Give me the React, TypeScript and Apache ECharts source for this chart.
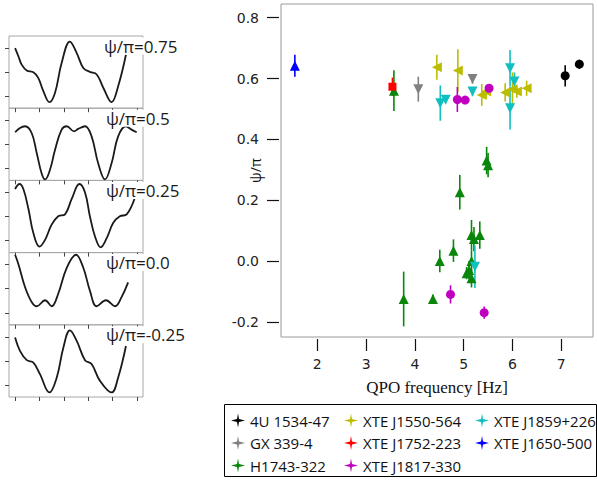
import React, { useEffect, useRef } from 'react';
import * as echarts from 'echarts';

// ---- Main scatter data: [QPO frequency (Hz), psi/pi, error] ----
const sourceNames = ['4U 1534-47', 'GX 339-4', 'H1743-322', 'XTE J1550-564', 'XTE J1752-223', 'XTE J1817-330', 'XTE J1859+226', 'XTE J1650-500'];

const data4U1534 = [[7.08, 0.609, 0.035], [7.37, 0.647, 0.015]];
const dataGX339 = [[4.07, 0.565, 0.041], [5.18, 0.598, 0.015]];
const dataH1743 = [
  [3.57, 0.56, 0.067], [3.77, -0.125, 0.09], [4.37, -0.125, 0.015], [4.51, 0.0, 0.037],
  [4.79, 0.034, 0.037], [4.92, 0.226, 0.057], [5.06, -0.04, 0.02], [5.11, -0.03, 0.03],
  [5.16, -0.057, 0.03], [5.16, 0.0, 0.035], [5.16, 0.085, 0.05], [5.21, 0.072, 0.04],
  [5.33, 0.085, 0.045], [5.47, 0.33, 0.045], [5.5, 0.315, 0.04]
];
const dataJ1550 = [
  [4.45, 0.637, 0.041], [4.88, 0.626, 0.07], [5.37, 0.546, 0.036], [5.46, 0.557, 0.02],
  [5.85, 0.554, 0.03], [6.0, 0.565, 0.055], [6.09, 0.557, 0.02], [6.29, 0.568, 0.025]
];
const dataJ1752 = [[3.54, 0.573, 0.03]];
const dataJ1817 = [[4.87, 0.531, 0.041], [5.03, 0.529, 0.01], [5.52, 0.568, 0.01], [4.73, -0.11, 0.03], [5.42, -0.17, 0.02]];
const dataJ1859 = [
  [4.52, 0.519, 0.058], [4.63, 0.53, 0.01], [5.18, 0.557, 0.015], [5.95, 0.634, 0.06],
  [5.95, 0.502, 0.07], [6.04, 0.59, 0.03], [5.23, -0.019, 0.07]
];
const dataJ1650 = [[1.54, 0.642, 0.036]];

const sourceData = [data4U1534, dataGX339, dataH1743, dataJ1550, dataJ1752, dataJ1817, dataJ1859, dataJ1650];

const xTicks = [2, 3, 4, 5, 6, 7];
const yTicks = [-0.2, 0.0, 0.2, 0.4, 0.6, 0.8];

// ---- Waveform panels (phase units, amplitude) ----
const waveLabels = ['ψ/π=0.75', 'ψ/π=0.5', 'ψ/π=0.25', 'ψ/π=0.0', 'ψ/π=-0.25'];
const wave1X = [0, 0.14, 0.27, 0.48, 0.75, 0.95, 1.16, 1.41, 1.64, 1.91, 2.25, 2.53, 2.8, 3.07, 3.35, 3.62, 3.96, 4.23, 4.55];
const wave1Y = [2.5, 2.15, 1.81, 1.57, 1.49, 1.26, 0.71, 0.25, 0.64, 1.88, 2.77, 2.29, 1.67, 1.51, 1.4, 0.85, 0.25, 0.91, 2.22];
const wave2X = [0, 0.2, 0.41, 0.68, 0.89, 1.09, 1.23, 1.43, 1.64, 1.91, 2.12, 2.42, 2.59, 2.87, 3.14, 3.41, 3.69, 3.96, 4.23, 4.55, 4.78, 4.99];
const wave2Y = [2.0, 2.18, 2.25, 1.97, 1.13, 0.29, 0.04, 0.43, 1.27, 2.11, 2.25, 2.04, 2.14, 2.25, 1.83, 0.71, 0.04, 0.71, 1.83, 2.25, 2.11, 2.0];
const wave3X = [0, 0.18, 0.34, 0.55, 0.75, 1.0, 1.23, 1.5, 1.77, 2.05, 2.32, 2.64, 2.87, 3.07, 3.28, 3.51, 3.76, 4.03, 4.3, 4.58, 4.92];
const wave3Y = [2.64, 2.85, 2.64, 1.8, 0.81, 0.25, 0.53, 1.16, 1.51, 1.59, 2.22, 2.85, 2.5, 1.51, 0.67, 0.22, 0.6, 1.24, 1.51, 1.59, 2.29];
const wave4X = [0, 0.14, 0.41, 0.68, 0.89, 1.23, 1.5, 1.77, 2.12, 2.5, 2.8, 3.07, 3.35, 3.73, 4.1, 4.37, 4.64];
const wave4Y = [2.91, 2.51, 1.56, 0.95, 0.77, 1.02, 0.77, 1.29, 2.37, 2.91, 2.37, 1.42, 0.77, 1.02, 0.77, 1.15, 1.76];
const wave5X = [0, 0.2, 0.48, 0.75, 1.02, 1.41, 1.71, 1.98, 2.25, 2.53, 2.87, 3.14, 3.48, 3.96, 4.23, 4.55];
const wave5Y = [2.47, 1.92, 1.53, 1.43, 0.95, 0.19, 0.81, 2.05, 2.77, 2.33, 1.53, 1.37, 0.68, 0.19, 0.81, 2.12];
const waveXs = [wave1X, wave2X, wave3X, wave4X, wave5X];
const waveYs = [wave1Y, wave2Y, wave3Y, wave4Y, wave5Y];
const waveXTicks = [0, 1, 2, 3, 4, 5];
const waveYTicks = [0.5, 1.5, 2.5];

// ---- styles ----
const sourceStyles = [
  { color: '#000000', symbol: 'circle', size: 9, rotate: 0 },
  { color: '#808080', symbol: 'triangle', size: 10, rotate: 180 },
  { color: '#0a860a', symbol: 'triangle', size: 10, rotate: 0 },
  { color: '#bdbd00', symbol: 'triangle', size: 10, rotate: 90 },
  { color: '#ff0000', symbol: 'rect', size: 8, rotate: 0 },
  { color: '#c000c0', symbol: 'circle', size: 9, rotate: 0 },
  { color: '#10c0c0', symbol: 'triangle', size: 10, rotate: 180 },
  { color: '#0000ff', symbol: 'triangle', size: 10, rotate: 0 },
];

const STAR = 'path://M7,0 L8,5.6 L14,7 L8,8.4 L7,14 L6,8.4 L0,7 L6,5.6 Z';
const SANS = '"Open Sans", "Noto Sans", sans-serif';

export default function App() {
  const ref = useRef<HTMLDivElement>(null);
  useEffect(() => {
    if (!ref.current) return;
    const chart = echarts.init(ref.current, undefined, { renderer: 'svg' });

    const panelTops = [36, 108.2, 180.4, 252.6, 324.8];
    const panelH = 72.2;

    const grid: any[] = [{ left: 281, top: 4, width: 312, height: 333, show: true, borderColor: '#9a9a9a', borderWidth: 1, backgroundColor: 'transparent' }];
    const xAxis: any[] = [{
      type: 'value', gridIndex: 0, min: 1.256, max: 7.65, offset: 2,
      axisLine: { show: false, onZero: false }, splitLine: { show: false },
      axisTick: { show: true, length: 12, inside: false, customValues: xTicks, lineStyle: { color: '#111', width: 1.2 } },
      axisLabel: { customValues: xTicks, margin: 18, fontSize: 14, fontFamily: 'DejaVu Sans', color: '#222' },
      name: 'QPO frequency [Hz]', nameLocation: 'middle', nameGap: 40, nameMoveOverlap: false,
      nameTextStyle: { fontFamily: '"Liberation Serif", serif', fontSize: 17, color: '#111' },
    }];
    const yAxis: any[] = [{
      type: 'value', gridIndex: 0, min: -0.25, max: 0.845, offset: 2,
      axisLine: { show: false, onZero: false }, splitLine: { show: false },
      axisTick: { show: true, length: 12, customValues: yTicks, lineStyle: { color: '#111', width: 1.2 } },
      axisLabel: { customValues: yTicks, margin: 20, fontSize: 14, fontFamily: 'DejaVu Sans', color: '#222', formatter: (v: number) => v.toFixed(1) },
      name: 'ψ/π', nameLocation: 'middle', nameGap: 17, nameRotate: 90, nameMoveOverlap: false,
      nameTextStyle: { fontFamily: SANS, fontSize: 14, color: '#111' },
    }];

    const series: any[] = [];
    sourceNames.forEach((name, i) => {
      const st = sourceStyles[i];
      series.push({
        type: 'scatter', name, xAxisIndex: 0, yAxisIndex: 0, z: 3,
        symbol: st.symbol, symbolSize: st.size, symbolRotate: st.rotate,
        itemStyle: { color: st.color, opacity: 1 },
        data: sourceData[i].map((d) => [d[0], d[1]]),
      });
    });
    sourceNames.forEach((name, i) => {
      const st = sourceStyles[i];
      series.push({
        type: 'custom', name, xAxisIndex: 0, yAxisIndex: 0, z: 2,
        itemStyle: { color: st.color },
        encode: { x: 0, y: 1 },
        data: sourceData[i],
        renderItem: (_p: any, api: any) => {
          const x = api.value(0), y = api.value(1), e = api.value(2);
          const a = api.coord([x, y - e]);
          const b = api.coord([x, y + e]);
          return { type: 'line', shape: { x1: a[0], y1: a[1], x2: b[0], y2: b[1] }, style: { stroke: st.color, lineWidth: 1.6 } };
        },
      });
    });

    waveXs.forEach((xs, k) => {
      const gi = k + 1;
      grid.push({ left: 9, top: panelTops[k], width: 134, height: panelH, show: true, borderColor: '#a8a8a8', borderWidth: 1 });
      xAxis.push({
        type: 'value', gridIndex: gi, min: -0.25, max: 5.25,
        axisLine: { show: false, onZero: false }, splitLine: { show: false }, axisLabel: { show: false },
        axisTick: { show: true, length: 4, customValues: waveXTicks, lineStyle: { color: '#444' } },
      });
      yAxis.push({
        type: 'value', gridIndex: gi, min: 0, max: 3,
        axisLine: { show: false, onZero: false }, splitLine: { show: false }, axisLabel: { show: false },
        axisTick: { show: true, length: 4, customValues: waveYTicks, lineStyle: { color: '#444' } },
      });
      series.push({
        type: 'line', xAxisIndex: gi, yAxisIndex: gi, smooth: 0.4, showSymbol: false,
        lineStyle: { color: '#1a1a1a', width: 1.8 },
        data: xs.map((x, j) => [x, waveYs[k][j]]),
      });
    });

    const graphic: any[] = waveLabels.map((t, k) => ({
      type: 'text', x: k === 0 ? 104 : 106, y: panelTops[k] + 10, z: 10,
      style: { text: t, fill: '#1a1a1a', font: `17px ${SANS}`, verticalAlign: 'middle', backgroundColor: '#fff' },
    }));
    graphic.push({ type: 'rect', shape: { x: 224.5, y: 404.5, width: 372, height: 72 }, style: { fill: 'none', stroke: '#000', lineWidth: 1 } });

    const legendLefts = [231, 344, 475];
    const legend = [sourceNames.slice(0, 3), sourceNames.slice(3, 6), sourceNames.slice(6, 8)].map((names, c) => ({
      orient: 'vertical', left: legendLefts[c], top: 413, padding: 0,
      itemWidth: 14, itemHeight: 14, itemGap: 7.5,
      textStyle: { fontFamily: SANS, fontSize: 15, color: '#111' },
      data: names.map((n) => ({ name: n, icon: STAR })),
      selectedMode: false,
    }));

    chart.setOption({
      animation: false,
      backgroundColor: '#fff',
      textStyle: { fontFamily: SANS },
      grid, xAxis, yAxis, series, legend, graphic,
    });
    return () => chart.dispose();
  }, []);
  return <div ref={ref} style={{ position: 'absolute', left: 0, top: 0, width: 597, height: 480 }} />;
}
